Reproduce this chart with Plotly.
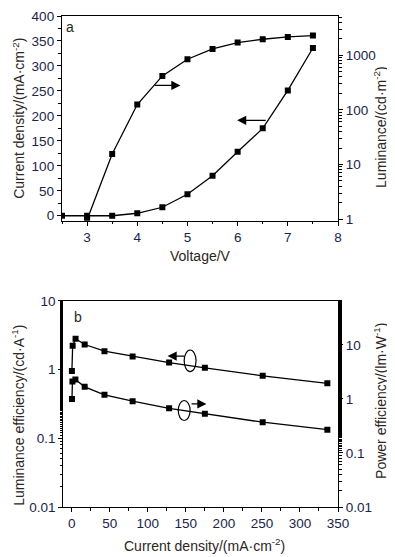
import plotly.graph_objects as go

# ---- Data ----
voltage = [2.5, 3, 3.5, 4, 4.5, 5, 5.5, 6, 6.5, 7, 7.5]
current_density = [0, 0, 0, 5, 17, 43, 80, 128, 175, 251, 336]

lum_voltage = [3, 3.5, 4, 4.5, 5, 5.5, 6, 6.5, 7, 7.5]
luminance = [0.97, 15.5, 125, 419, 845, 1306, 1706, 1963, 2164, 2290]

eff_current = [0.2, 1.2, 5, 17, 43, 80, 128, 175, 251, 336]
lum_eff = [0.95, 2.21, 2.8, 2.31, 1.85, 1.55, 1.26, 1.06, 0.81, 0.63]

pow_current = [0.3, 0.9, 4.8, 17, 43, 80, 128, 175, 251, 336]
pow_eff = [1.0, 2.09, 2.28, 1.67, 1.19, 0.905, 0.67, 0.53, 0.37, 0.27]

FONT = "Arial, Liberation Sans, sans-serif"
TICKC = "#1a2448"
TITLEC = "#2b2622"
TICKF = dict(family=FONT, size=13.5, color=TICKC)
TITLEF = dict(family=FONT, size=14, color=TITLEC)

line = dict(color="black", width=1.3)
marker = dict(symbol="square", size=6, color="black")

fig = go.Figure()
fig.add_trace(go.Scatter(x=voltage, y=current_density, mode="lines+markers",
                         line=line, marker=marker, xaxis="x", yaxis="y"))
fig.add_trace(go.Scatter(x=lum_voltage, y=luminance, mode="lines+markers",
                         line=line, marker=marker, xaxis="x", yaxis="y2"))
fig.add_trace(go.Scatter(x=eff_current, y=lum_eff, mode="lines+markers",
                         line=line, marker=marker, xaxis="x2", yaxis="y3"))
fig.add_trace(go.Scatter(x=pow_current, y=pow_eff, mode="lines+markers",
                         line=line, marker=marker, xaxis="x2", yaxis="y4"))

axis_common = dict(showline=True, linecolor="black", linewidth=1.3, ticks="outside",
                   ticklen=4, tickwidth=1.2, tickcolor="black", showgrid=False,
                   zeroline=False, tickfont=TICKF, automargin=False)
minor_lin = lambda d: dict(ticks="outside", ticklen=2.5, tickwidth=1, tickcolor="black",
                           dtick=d, showgrid=False)
minor_log = dict(ticks="outside", ticklen=2.5, tickwidth=1, tickcolor="black", showgrid=False)

top_dom = [0.583, 1.0]
bot_dom = [0.0, 0.420]

# page body has an 8px default margin: the figure is sized and placed to compensate
fig.update_layout(
    width=387, height=549,
    margin=dict(l=54, r=57, t=8, b=50),
    paper_bgcolor="white", plot_bgcolor="white",
    showlegend=False,
    xaxis=dict(**axis_common, domain=[0, 1], anchor="y", range=[2.5, 8], dtick=1,
               minor=minor_lin(0.5), mirror=True),
    yaxis=dict(**axis_common, domain=top_dom, anchor="x", range=[-10, 400], dtick=50,
               minor=minor_lin(25)),
    yaxis2=dict(**axis_common, overlaying="y", side="right", anchor="x", type="log",
                range=[-0.031, 3.719], dtick=1, minor=minor_log),
    xaxis2=dict(**axis_common, domain=[0.005, 1], anchor="y3", range=[-11, 350], dtick=50,
                minor=minor_lin(25), mirror=True),
    yaxis3=dict(**axis_common, domain=bot_dom, anchor="x2", type="log", range=[-2, 1],
                dtick=1, minor=minor_log, tickvals=[0.01, 0.1, 1, 10],
                ticktext=["0.01", "0.1", "1", "10"]),
    yaxis4=dict(**axis_common, overlaying="y3", side="right", anchor="x2", type="log",
                range=[-2, 1.815], dtick=1, minor=minor_log, tickvals=[0.01, 0.1, 1, 10],
                ticktext=["0.01", "0.1", "1", "10"]),
)

ann = []
c = dict(xref="paper", yref="paper", showarrow=False, font=TITLEF,
         xanchor="center", yanchor="middle")
ann.append(dict(text="Voltage/V", x=0.5, y=0.511, **c))
ann.append(dict(text="Current density/(mA·cm<sup>-2</sup>)", x=0.518, y=-0.077, **c))
ann.append(dict(text="Current density/(mA·cm<sup>-2</sup>)", x=-0.157, y=0.792,
                textangle=-90, **c))
ann.append(dict(text="Luminance/(cd·m<sup>-2</sup>)", x=1.152, y=0.774, textangle=-90, **c))
ann.append(dict(text="Luminance efficiency/(cd·A<sup>-1</sup>)", x=-0.157, y=0.187,
                textangle=-90, **c))
ann.append(dict(text="Power efficiency/(lm·W<sup>-1</sup>)", x=1.152, y=0.216,
                textangle=-90, **c))
# panel labels
ann.append(dict(text="a", xref="x domain", yref="y domain", x=0.008, y=0.995,
                xanchor="left", yanchor="top", showarrow=False, font=TITLEF))
ann.append(dict(text="b", xref="x2 domain", yref="y3 domain", x=0.03, y=0.97,
                xanchor="left", yanchor="top", showarrow=False, font=TITLEF))
# arrows, top panel
arrow = dict(showarrow=True, arrowhead=2, arrowsize=1.4, arrowwidth=1.3,
             arrowcolor="black", text="")
ann.append(dict(**arrow, xref="x", yref="y", x=4.86, y=261, axref="x", ayref="y",
                ax=4.32, ay=261))
ann.append(dict(**arrow, xref="x", yref="y", x=5.99, y=191, axref="x", ayref="y",
                ax=6.59, ay=191))
# arrows, bottom panel (annotation positions on log axes are log10 values)
ann.append(dict(**arrow, xref="x2", yref="y3", x=126, y=0.195, axref="x2", ayref="y3",
                ax=150, ay=0.195))
ann.append(dict(**arrow, xref="x2", yref="y4", x=177, y=-0.093, axref="x2", ayref="y4",
                ax=155.5, ay=-0.093))
fig.update_layout(annotations=ann)

# ellipses around the bottom curves (shape coordinates are data values)
fig.add_shape(type="circle", xref="x2", yref="y3", x0=147.8, x1=163.4,
              y0=10 ** (0.126 - 0.158), y1=10 ** (0.126 + 0.158),
              line=dict(color="black", width=1.2))
fig.add_shape(type="circle", xref="x2", yref="y4", x0=140.0, x1=155.6,
              y0=10 ** (-0.215 - 0.185), y1=10 ** (-0.215 + 0.185),
              line=dict(color="black", width=1.2))

fig.write_html("out.html")
